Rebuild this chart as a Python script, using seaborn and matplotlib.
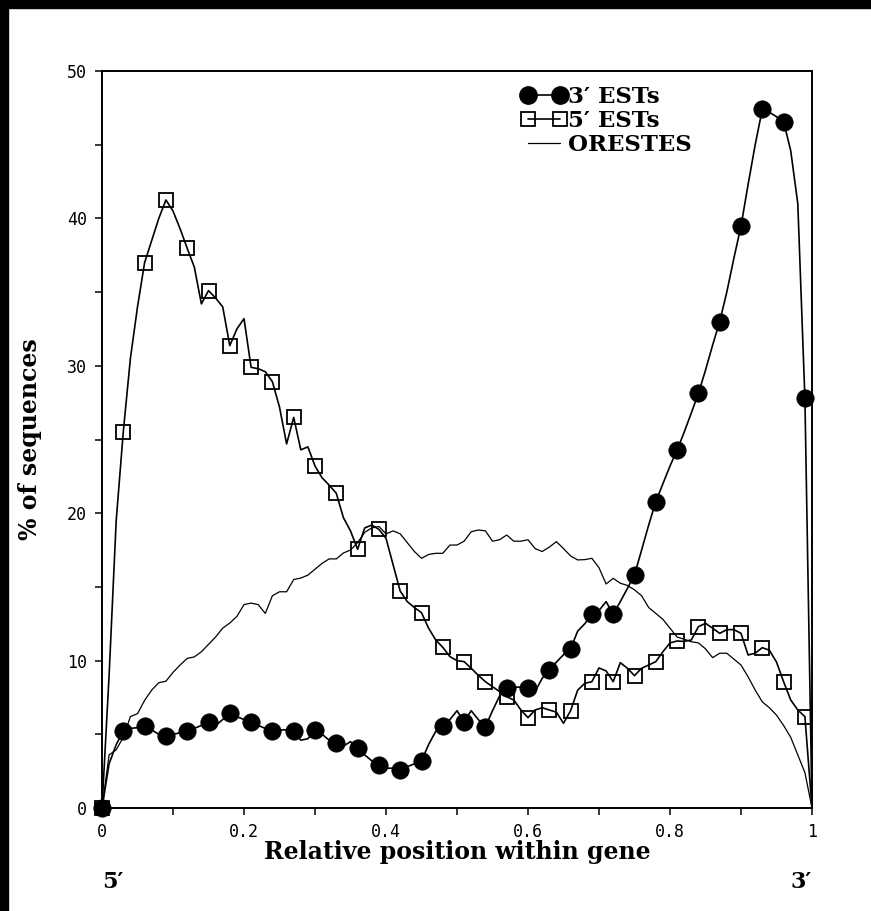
import numpy as np
import pandas as pd
import matplotlib
matplotlib.use("Agg")
import matplotlib.pyplot as plt
from matplotlib.lines import Line2D
from matplotlib.patches import Rectangle
from matplotlib.ticker import MultipleLocator, FuncFormatter
import seaborn as sns

# relative position along the gene, 0.01 steps (markers every 0.03)
position = [round(i * 0.01, 2) for i in range(101)]

est3 = [0.0, 3.0, 4.3, 5.24, 5.4, 5.45, 5.56, 5.3, 5.0, 4.9,
        5.0, 5.1, 5.24, 5.4, 5.6, 5.81, 5.6, 6.0, 6.42, 6.2,
        6.0, 5.81, 5.6, 5.4, 5.24, 5.3, 5.3, 5.24, 4.6, 4.7,
        5.29, 5.0, 4.6, 4.39, 4.2, 4.5, 4.05, 3.6, 3.2, 2.9,
        2.7, 2.7, 2.58, 2.8, 3.0, 3.21, 4.3, 5.2, 5.56, 6.0,
        6.6, 5.86, 6.6, 6.0, 5.52, 6.6, 7.6, 8.16, 8.2, 8.2,
        8.16, 7.9, 8.8, 9.36, 9.9, 10.4, 10.81, 12.0, 12.5, 13.14,
        13.4, 14.0, 13.14, 14.0, 14.9, 15.81, 17.5, 19.2, 20.78, 22.0,
        23.2, 24.29, 25.5, 26.8, 28.13, 29.7, 31.4, 33.0, 35.0, 37.3,
        39.48, 42.3, 45.0, 47.4, 47.2, 46.9, 46.56, 44.6, 41.0, 27.8,
        0.0]

est5 = [0.0, 9.0, 19.5, 25.53, 30.5, 34.0, 37.0, 38.5, 40.0, 41.25,
        40.5, 39.3, 37.97, 36.7, 34.2, 35.1, 34.6, 34.0, 31.37, 32.5,
        33.2, 29.9, 29.8, 29.6, 28.92, 27.2, 24.7, 26.5, 24.3, 24.5,
        23.2, 22.4, 21.9, 21.35, 19.7, 18.8, 17.55, 19.0, 19.2, 18.9,
        18.3, 16.5, 14.72, 14.0, 13.6, 13.25, 12.2, 11.4, 10.9, 10.27,
        10.0, 9.93, 9.48, 9.0, 8.57, 8.23, 7.9, 7.55, 7.33, 6.65,
        6.13, 6.65, 6.8, 6.65, 6.5, 5.75, 6.6, 8.0, 8.46, 8.57,
        9.5, 9.3, 8.57, 9.86, 9.48, 8.98, 9.48, 9.7, 9.93, 10.6,
        11.2, 11.33, 11.3, 11.4, 12.3, 12.53, 12.2, 11.85, 12.1, 12.1,
        11.85, 10.38, 10.5, 10.88, 10.7, 9.9, 8.57, 7.33, 6.65, 6.2,
        0.0]

orestes = [0.0, 3.6, 3.95, 4.8, 6.2, 6.4, 7.3, 8.0, 8.5, 8.6,
           9.2, 9.7, 10.15, 10.25, 10.6, 11.1, 11.6, 12.2, 12.55, 13.0,
           13.8, 13.9, 13.8, 13.2, 14.4, 14.67, 14.67, 15.5, 15.6, 15.8,
           16.2, 16.6, 16.9, 16.9, 17.3, 17.5, 18.0, 18.7, 19.0, 19.1,
           18.6, 18.8, 18.6, 18.0, 17.4, 16.94, 17.2, 17.28, 17.28, 17.84,
           17.84, 18.1, 18.74, 18.86, 18.8, 18.1, 18.2, 18.52, 18.1, 18.1,
           18.2, 17.6, 17.4, 17.7, 18.07, 17.6, 17.1, 16.83, 16.85, 16.94,
           16.3, 15.2, 15.58, 15.25, 15.1, 14.8, 14.4, 13.6, 13.2, 12.8,
           12.2, 11.6, 11.45, 11.28, 11.2, 10.8, 10.2, 10.5, 10.5, 10.1,
           9.7, 8.9, 8.0, 7.2, 6.8, 6.3, 5.6, 4.8, 3.6, 2.4,
           0.0]

legend_labels = ["3\u2032 ESTs", "5\u2032 ESTs", "ORESTES"]
x_ticks = [0, 0.2, 0.4, 0.6, 0.8, 1]
y_ticks = [0, 10, 20, 30, 40, 50]

df = pd.DataFrame({"pos": position, "est3": est3, "est5": est5, "orestes": orestes})

sns.set_style("ticks")
plt.rcParams.update({"text.color": "k", "axes.labelcolor": "k",
                     "xtick.color": "k", "ytick.color": "k"})
serif = ["DejaVu Serif"]
mono = ["DejaVu Sans Mono"]

fig = plt.figure(figsize=(8.71, 9.11), dpi=100)
ax = fig.add_axes([102 / 871, 1 - 808 / 911, 710 / 871, 737 / 911])

sns.lineplot(data=df, x="pos", y="orestes", ax=ax, color="k", lw=0.9, zorder=2)
sns.lineplot(data=df, x="pos", y="est5", ax=ax, color="k", lw=1.2, marker="s",
             markersize=10, markevery=3, markerfacecolor="none",
             markeredgecolor="k", markeredgewidth=1.3, zorder=3, clip_on=False)
sns.lineplot(data=df, x="pos", y="est3", ax=ax, color="k", lw=1.2, marker="o",
             markersize=12.5, markevery=3, markerfacecolor="k",
             markeredgecolor="k", markeredgewidth=0.5, zorder=4, clip_on=False)

ax.set_xlim(0, 1)
ax.set_ylim(0, 50)
ax.set_xticks(x_ticks)
ax.set_yticks(y_ticks)
ax.xaxis.set_minor_locator(MultipleLocator(0.1))
ax.yaxis.set_minor_locator(MultipleLocator(5))
ax.xaxis.set_major_formatter(FuncFormatter(lambda v, p: f"{v:g}"))
ax.tick_params(which="both", direction="out", length=5, width=1.1, color="k",
               labelcolor="k")
ax.tick_params(which="major", labelsize=12, pad=6)
for lab in ax.get_xticklabels() + ax.get_yticklabels():
    lab.set_family(mono)

for side in ["top", "right", "left", "bottom"]:
    ax.spines[side].set_visible(True)
    ax.spines[side].set_linewidth(1.4)
    ax.spines[side].set_color("k")

ax.set_xlabel("Relative position within gene", family=serif, fontweight="bold",
              fontsize=17, color="k")
ax.set_ylabel("% of sequences", family=serif, fontweight="bold", fontsize=17, color="k")
ax.xaxis.set_label_coords(0.5, -0.043)
ax.yaxis.set_label_coords(-0.085, 0.5)

ax.text(0.0, -0.1, "5\u2032", transform=ax.transAxes, family=serif, fontweight="bold",
        fontsize=16, ha="left", va="center", color="k")
ax.text(1.0, -0.1, "3\u2032", transform=ax.transAxes, family=serif, fontweight="bold",
        fontsize=16, ha="right", va="center", color="k")

handles = [
    Line2D([], [], color="k", lw=1.2, marker="o", markersize=12.5, markerfacecolor="k"),
    Line2D([], [], color="k", lw=1.2, marker="s", markersize=10, markerfacecolor="none",
           markeredgewidth=1.3),
    Line2D([], [], color="k", lw=0.9),
]
leg = ax.legend(handles, legend_labels, loc="upper left", bbox_to_anchor=(0.59, 0.979),
                frameon=False, numpoints=2, handlelength=2.0, handletextpad=0.05,
                labelspacing=0.08, borderpad=0, borderaxespad=0,
                prop={"family": serif, "weight": "bold", "size": 16.5})
for t in leg.get_texts():
    t.set_color("k")

# black border strips on the top and left edge of the picture
fig.patches.append(Rectangle((0, 1 - 8 / 911), 1, 8 / 911, transform=fig.transFigure,
                             color="k", zorder=10))
fig.patches.append(Rectangle((0, 0), 8 / 871, 1, transform=fig.transFigure,
                             color="k", zorder=10))

fig.savefig("out.png", dpi=100, facecolor="white")
